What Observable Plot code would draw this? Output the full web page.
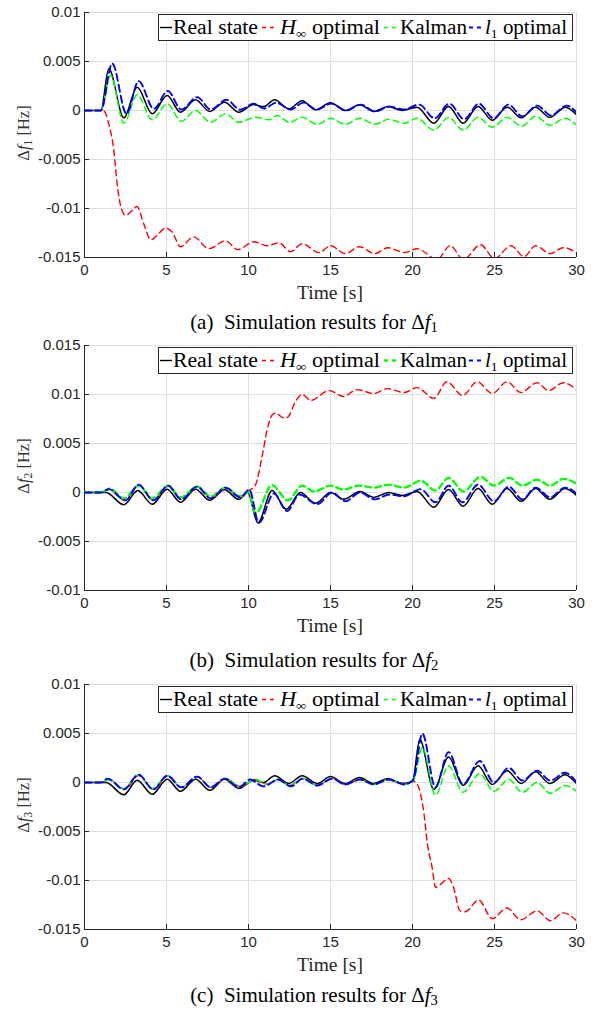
<!DOCTYPE html>
<html><head><meta charset="utf-8">
<script src="https://cdn.jsdelivr.net/npm/d3@7"></script>
<script src="https://cdn.jsdelivr.net/npm/@observablehq/plot@0.6"></script>
<style>
body{margin:0;background:#fff;}
#root{position:relative;width:595px;height:1013px;overflow:hidden;font-family:"Liberation Serif","Times New Roman",serif;}
.panel{position:absolute;left:0;}
.panel svg, .panel svg text{font-family:"Liberation Sans",Arial,sans-serif !important;font-size:15px !important;}
.ylab{position:absolute;font-size:16.5px;color:#333;white-space:nowrap;transform:translate(-50%,-50%) rotate(-90deg);}
.xlab{position:absolute;font-size:19.5px;color:#262626;white-space:nowrap;transform:translate(-50%,-50%);}
.cap{position:absolute;font-size:21px;color:#000;white-space:nowrap;transform:translate(-50%,-50%);}
.leg{position:absolute;left:158px;width:415px;height:27px;border:1px solid #262626;background:#fff;box-sizing:border-box;}
sub{font-size:70%;vertical-align:-0.25em;line-height:0;}
</style></head><body><div id="root"></div>
<script>
// ---------- data ----------
const xDomain = [0, 30];
const xTicks = [0, 5, 10, 15, 20, 25, 30];
const yTicksA = [-0.015, -0.01, -0.005, 0, 0.005, 0.01];
const yTicksB = [-0.01, -0.005, 0, 0.005, 0.01, 0.015];
const yTicksC = [-0.015, -0.01, -0.005, 0, 0.005, 0.01];
const seriesNames = ["Real state", "H∞ optimal", "Kalman", "l1 optimal"];
const seriesColors = ["#000000", "#ff0000", "#00ff00", "#0000ff"];

// Panel (a): Δf1
const a_real = [[0,0],[1.0,0],[1.48,0.00425],[2.4,-0.00075],[3.21,0.00238],[4.13,-0.00034],[5.04,0.00153],[5.85,-0.00017],[6.77,0.0011],[7.64,-0.0001],[8.54,0.00085],[9.41,-0.00017],[10.32,0.0006],[10.93,0.0004],[11.59,0.0011],[12.46,0.00017],[13.27,0.001],[14.08,0.00007],[15.0,0.0008],[15.9,0],[16.77,0.00058],[17.64,-0.0001],[18.5,0.0004],[19.37,0],[20.28,0.00034],[21.3,-0.0013],[22.2,0.0004],[23.08,-0.0013],[24.0,0.0004],[24.86,-0.001],[25.77,0.00034],[26.63,-0.00075],[27.5,0.00034],[28.37,-0.0007],[29.33,0.00034],[30,-0.00044]];
const a_hinf = [[0,0],[1.15,0],[1.5,-0.0015],[1.79,-0.0041],[1.99,-0.0075],[2.2,-0.0097],[2.5,-0.0107],[2.9,-0.0102],[3.2,-0.0098],[3.62,-0.0116],[4.05,-0.0132],[4.45,-0.0127],[4.94,-0.012],[5.35,-0.0124],[5.85,-0.0139],[6.66,-0.0129],[7.58,-0.0141],[8.6,-0.0133],[9.35,-0.0142],[10.32,-0.0134],[11.14,-0.0138],[11.85,-0.0135],[12.56,-0.0144],[13.27,-0.0136],[14.3,-0.0145],[15.0,-0.0138],[15.9,-0.0146],[16.76,-0.0139],[17.7,-0.0146],[18.5,-0.014],[19.5,-0.0145],[20.28,-0.0141],[21.5,-0.0152],[22.3,-0.0138],[23.1,-0.0152],[24.15,-0.0137],[25.0,-0.0151],[26.0,-0.0138],[26.8,-0.0149],[27.5,-0.0138],[28.4,-0.0146],[29.2,-0.014],[30,-0.0145]];
const a_kalman = [[0,0],[1.0,0],[1.59,0.0036],[2.4,-0.0013],[3.21,0.0016],[4.13,-0.00095],[5.04,0.00068],[5.9,-0.0011],[6.77,0],[7.68,-0.0012],[8.6,-0.00034],[9.41,-0.0012],[10.43,-0.0007],[11.24,-0.00095],[11.75,-0.0005],[12.5,-0.0012],[13.27,-0.0007],[14.2,-0.0014],[15.0,-0.0008],[15.9,-0.0014],[16.8,-0.0008],[17.7,-0.0014],[18.55,-0.0009],[19.5,-0.0013],[20.28,-0.0008],[21.3,-0.002],[22.2,-0.0007],[23.08,-0.002],[24.0,-0.0007],[24.86,-0.0017],[25.77,-0.0007],[26.65,-0.0016],[27.5,-0.0006],[28.4,-0.0015],[29.3,-0.0008],[30,-0.0015]];
const a_l1 = [[0,0],[1.0,0],[1.69,0.0048],[2.56,-0.00034],[3.3,0.003],[4.23,0.00017],[5.08,0.002],[5.9,0.0001],[6.87,0.00136],[7.7,0.0001],[8.66,0.0011],[9.5,0.00007],[10.3,0.0007],[10.95,0.0002],[11.7,0.0008],[12.55,0.0001],[13.35,0.0008],[14.15,0.0001],[15.05,0.0007],[15.95,0],[16.85,0.0006],[17.7,-0.0001],[18.6,0.0004],[19.45,0.0001],[20.4,0.0006],[21.35,-0.0008],[22.25,0.0007],[23.15,-0.0009],[24.05,0.0007],[24.95,-0.0008],[25.85,0.0006],[26.7,-0.0006],[27.6,0.0005],[28.45,-0.0005],[29.4,0.0005],[30,-0.0002]];

// Panel (b): Δf2
const b_real = [[0,0],[1.3,0],[2.4,-0.00125],[3.25,0.0002],[4.13,-0.0012],[5.04,0.00034],[5.85,-0.001],[6.77,0.00034],[7.64,-0.0008],[8.54,0.00027],[9.41,-0.0007],[9.95,0],[10.57,-0.0031],[11.44,0.0002],[12.3,-0.0017],[13.17,0],[14.08,-0.0011],[15.0,0],[15.8,-0.0007],[16.8,0.0001],[17.64,-0.0005],[18.55,0],[19.37,-0.0003],[20.28,0.0001],[21.3,-0.0015],[22.2,0.0003],[23.08,-0.0014],[24.0,0.0004],[24.86,-0.0012],[25.77,0.0004],[26.63,-0.0009],[27.5,0.0004],[28.37,-0.0007],[29.3,0.0004],[30,-0.0003]];
const b_hinf = [[0,0],[1.0,0],[1.5,0.0003],[2.45,-0.0008],[3.3,0.0007],[4.2,-0.0008],[5.1,0.0006],[5.9,-0.0007],[6.85,0.0006],[7.7,-0.0006],[8.6,0.0004],[9.5,-0.0005],[10.05,0.0002],[10.43,0.0008],[10.83,0.0037],[11.14,0.0064],[11.44,0.0079],[11.65,0.0081],[12.15,0.0076],[12.4,0.0077],[12.87,0.0093],[13.27,0.01],[13.8,0.0094],[14.9,0.0104],[15.8,0.0098],[16.6,0.0105],[17.64,0.0101],[18.45,0.0106],[19.5,0.0102],[20.28,0.0107],[21.3,0.0096],[22.1,0.0113],[23.05,0.0099],[23.95,0.0113],[24.86,0.0101],[25.77,0.0113],[26.6,0.0102],[27.6,0.0112],[28.3,0.0104],[29.2,0.0112],[30,0.0105]];
const b_kalman = [[0,0],[1.0,0],[1.55,0.0004],[2.4,-0.0006],[3.3,0.0007],[4.13,-0.0006],[5.1,0.0007],[5.85,-0.0005],[6.87,0.0006],[7.7,-0.0004],[8.6,0.0005],[9.5,-0.0004],[10.0,0.0001],[10.43,-0.0021],[11.44,0.00075],[12.4,-0.0008],[13.27,0.0007],[14.0,0.0001],[15.0,0.0007],[15.8,0.0003],[16.7,0.0007],[17.64,0.0005],[18.55,0.0008],[19.5,0.0005],[20.5,0.0012],[21.4,0.0002],[22.2,0.0015],[23.1,0.0001],[24.15,0.0016],[24.96,0.0007],[25.9,0.0015],[26.7,0.0007],[27.6,0.0013],[28.4,0.0007],[29.2,0.0014],[30,0.0009]];
const b_l1 = [[0,0],[1.0,0],[1.48,0.00034],[2.5,-0.0008],[3.3,0.0008],[4.2,-0.0008],[5.1,0.0007],[5.9,-0.0007],[6.87,0.0006],[7.7,-0.0006],[8.6,0.0005],[9.5,-0.0005],[10.05,0.0003],[10.63,-0.0031],[11.55,-0.0001],[12.35,-0.0019],[13.1,-0.0002],[14.2,-0.0012],[15.1,0],[15.9,-0.0009],[16.8,0],[17.7,-0.0007],[18.6,-0.0002],[19.45,-0.0004],[20.5,0.00034],[21.4,-0.001],[22.2,0.0007],[23.05,-0.001],[24.0,0.0008],[24.96,-0.0009],[25.87,0.0006],[26.7,-0.0007],[27.5,0.0005],[28.4,-0.0005],[29.3,0.0005],[30,-0.0001]];

// Panel (c): Δf3
const c_real = [[0,0],[1.3,0],[2.4,-0.00125],[3.21,0.00023],[4.13,-0.0012],[5.04,0.00034],[5.85,-0.0009],[6.77,0.00034],[7.64,-0.0008],[8.54,0.00034],[9.41,-0.0006],[10.32,0.00023],[10.9,0],[11.6,0.0007],[12.46,-0.0001],[13.27,0.0007],[14.2,-0.0001],[15.0,0.0006],[15.9,-0.0001],[16.77,0.0005],[17.64,-0.0001],[18.5,0.0004],[19.37,-0.0001],[20.0,0.0001],[20.44,0.0044],[21.3,-0.0007],[22.2,0.0026],[23.08,-0.0003],[24.0,0.0017],[24.86,-0.0002],[25.77,0.0012],[26.63,-0.0001],[27.5,0.0011],[28.37,-0.0001],[29.3,0.0008],[30,-0.0001]];
const c_hinf = [[0,0],[1.0,0],[1.5,0.0003],[2.45,-0.0007],[3.3,0.0007],[4.2,-0.0007],[5.1,0.0007],[5.9,-0.0005],[6.87,0.0006],[7.7,-0.0005],[8.6,0.0004],[9.5,-0.0004],[10.4,0.0003],[11.2,-0.0002],[11.8,0.0003],[12.5,-0.0003],[13.3,0.0004],[14.2,-0.0003],[15.1,0.0004],[15.9,-0.0002],[16.8,0.0003],[17.64,-0.0002],[18.55,0.0003],[19.5,-0.0002],[20.1,0.0001],[20.3,-0.0002],[20.7,-0.0032],[20.9,-0.0062],[21.2,-0.0087],[21.4,-0.0107],[21.7,-0.0104],[22.2,-0.0098],[22.5,-0.0107],[22.9,-0.0131],[23.2,-0.0132],[24.04,-0.012],[24.86,-0.0139],[25.75,-0.0128],[26.6,-0.014],[27.6,-0.0131],[28.4,-0.0141],[29.2,-0.0133],[30,-0.0141]];
const c_kalman = [[0,0],[1.0,0],[1.5,0.0003],[2.4,-0.0006],[3.3,0.0008],[4.15,-0.0006],[5.05,0.0007],[5.9,-0.0005],[6.85,0.0006],[7.7,-0.0004],[8.6,0.0004],[9.5,-0.0004],[10.4,0.0003],[11.2,-0.0002],[11.8,0.0003],[12.5,-0.0003],[13.3,0.0004],[14.2,-0.0003],[15.1,0.0004],[15.9,-0.0002],[16.8,0.0003],[17.64,-0.0002],[18.55,0.0003],[19.5,-0.0002],[20.05,0.0002],[20.6,0.0036],[21.4,-0.0013],[22.2,0.0017],[23.08,-0.001],[24.1,0.0009],[24.96,-0.0009],[25.87,0.0003],[26.7,-0.001],[27.6,0],[28.4,-0.0011],[29.3,-0.0003],[30,-0.0009]];
const c_l1 = [[0,0],[1.0,0],[1.4,0.0004],[2.4,-0.0007],[3.3,0.0008],[4.2,-0.0007],[5.04,0.0007],[5.9,-0.0005],[6.87,0.0006],[7.7,-0.0005],[8.54,0.0004],[9.41,-0.0005],[10.1,0.0003],[10.9,-0.0004],[11.8,0.0003],[12.6,-0.0004],[13.3,0.0004],[14.2,-0.0003],[15.1,0.0004],[15.9,-0.0002],[16.8,0.0003],[17.64,-0.0002],[18.55,0.0003],[19.5,-0.0002],[20.05,0.0003],[20.6,0.005],[21.4,-0.0005],[22.2,0.0031],[23.08,-0.0002],[24.1,0.0022],[24.96,0],[25.87,0.0015],[26.7,0.0002],[27.6,0.0012],[28.4,0.0002],[29.3,0.001],[30,0]];

// ---------- layout ----------
const W = 595, mL = 84, mR = 19, mT = 12, mB = 40, plotH = 245;
const plotW = W - mL - mR;
const root = document.getElementById("root");

const panels = [
  {id:"a", plotTop:12, yTicks:yTicksA, series:[a_real,a_hinf,a_kalman,a_l1], greenW:1.5, cap:322, sub:"1"},
  {id:"b", plotTop:345, yTicks:yTicksB, series:[b_real,b_hinf,b_kalman,b_l1], greenW:2.3, cap:660, sub:"2"},
  {id:"c", plotTop:684, yTicks:yTicksC, series:[c_real,c_hinf,c_kalman,c_l1], greenW:1.5, cap:995, sub:"3"}
];

const styles = [
  {w:1.5, dash:null},
  {w:1.4, dash:"6,4"},
  {w:1.5, dash:"6,4"},
  {w:1.9, dash:"7,4"}
];

panels.forEach(p => {
  const yDomain = [p.yTicks[0], p.yTicks[p.yTicks.length - 1]];
  const lineMarks = p.series.map((s, i) => Plot.line(s, {
    x: d => d[0], y: d => d[1],
    stroke: seriesColors[i],
    strokeWidth: i === 2 ? p.greenW : styles[i].w,
    strokeDasharray: styles[i].dash,
    curve: "monotone-x",
    clip: true
  }));
  const chart = Plot.plot({
    width: W, height: mT + plotH + mB,
    marginLeft: mL, marginRight: mR, marginTop: mT, marginBottom: mB,
    style: {fontFamily: '"Liberation Sans", Arial, sans-serif', fontSize: "15px", color: "#262626", background: "transparent", overflow: "visible"},
    x: {domain: xDomain, ticks: xTicks, tickSize: 0, tickPadding: 7, label: null, tickFormat: d => String(d)},
    y: {domain: yDomain, ticks: p.yTicks, tickSize: 0, tickPadding: 4, label: null, tickFormat: d => String(d)},
    marks: [
      Plot.ruleX(xTicks, {stroke: "#dfdfdf", strokeWidth: 1}),
      Plot.ruleY(p.yTicks, {stroke: "#dfdfdf", strokeWidth: 1}),
      Plot.ruleX([xDomain[0]], {stroke: "#262626", strokeWidth: 1}),
      Plot.ruleY([yDomain[0]], {stroke: "#262626", strokeWidth: 1}),
      Plot.tickX(xTicks, {x: d => d, stroke: "#262626", insetTop: plotH - 5}),
      Plot.tickY(p.yTicks, {y: d => d, stroke: "#262626", insetRight: plotW - 5}),
      ...lineMarks
    ]
  });
  const wrap = document.createElement("div");
  wrap.className = "panel";
  wrap.style.top = (p.plotTop - mT) + "px";
  wrap.appendChild(chart);
  root.appendChild(wrap);

  // y label
  const yl = document.createElement("div");
  yl.className = "ylab";
  yl.style.left = "24px";
  yl.style.top = (p.plotTop + plotH / 2 - 2) + "px";
  yl.innerHTML = `Δ<i>f</i><sub>${p.sub}</sub> [Hz]`;
  root.appendChild(yl);

  // x label
  const xl = document.createElement("div");
  xl.className = "xlab";
  xl.style.left = (mL + plotW / 2) + "px";
  xl.style.top = (p.plotTop + plotH + 36) + "px";
  xl.textContent = "Time [s]";
  root.appendChild(xl);

  // caption
  const cp = document.createElement("div");
  cp.className = "cap";
  cp.style.left = "314px";
  cp.style.top = p.cap + "px";
  cp.innerHTML = `(${p.id})&nbsp;&nbsp;Simulation results for Δ<i>f</i><sub>${p.sub}</sub>`;
  root.appendChild(cp);

  // legend
  const lg = document.createElement("div");
  lg.className = "leg";
  lg.style.top = (p.plotTop + 2) + "px";
  const gw = p.greenW;
  lg.innerHTML = `<svg width="413" height="25" style="display:block;font-family:'Liberation Serif',serif;font-size:20px;fill:#000">
    <line x1="1" x2="13" y1="12.5" y2="12.5" stroke="${seriesColors[0]}" stroke-width="1.4"/>
    <text x="14" y="19" textLength="85" lengthAdjust="spacingAndGlyphs">${seriesNames[0]}</text>
    <line x1="103" x2="118" y1="12.5" y2="12.5" stroke="${seriesColors[1]}" stroke-width="1.3" stroke-dasharray="4,4"/>
    <text x="121" y="19" textLength="100" lengthAdjust="spacingAndGlyphs"><tspan font-style="italic">H</tspan><tspan font-size="13" dy="4">∞</tspan><tspan dy="-4"> optimal</tspan></text>
    <line x1="225" x2="239" y1="12.5" y2="12.5" stroke="${seriesColors[2]}" stroke-width="${gw}" stroke-dasharray="4,4"/>
    <text x="241" y="19" textLength="67" lengthAdjust="spacingAndGlyphs">${seriesNames[2]}</text>
    <line x1="310" x2="324" y1="12.5" y2="12.5" stroke="${seriesColors[3]}" stroke-width="1.8" stroke-dasharray="4,4"/>
    <text x="326" y="19" textLength="82" lengthAdjust="spacingAndGlyphs"><tspan font-style="italic">l</tspan><tspan font-size="13" dy="4">1</tspan><tspan dy="-4"> optimal</tspan></text>
  </svg>`;
  root.appendChild(lg);
});
</script></body></html>
